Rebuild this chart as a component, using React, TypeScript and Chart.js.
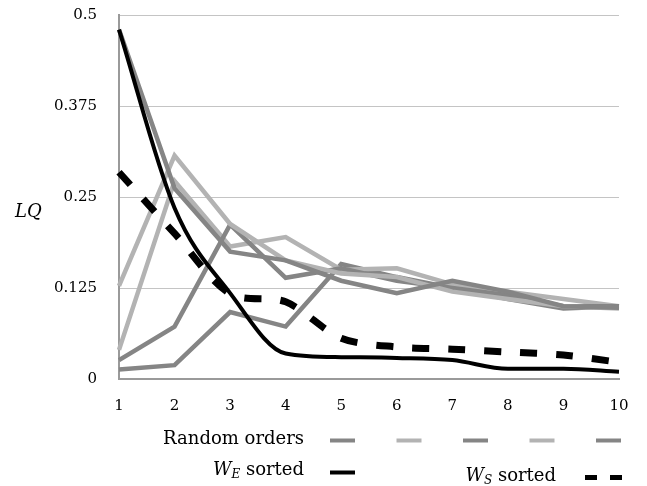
import React, { useEffect, useRef } from 'react';
import { Chart, registerables } from 'chart.js';

Chart.register(...registerables);

const categories = ['1', '2', '3', '4', '5', '6', '7', '8', '9', '10'];
const yTickValues = [0, 0.125, 0.25, 0.375, 0.5];
const yTickLabels = ['0', '0.125', '0.25', '0.375', '0.5'];

const random1 = [0.48, 0.262, 0.175, 0.163, 0.135, 0.118, 0.135, 0.12, 0.1, 0.098];
const random2 = [0.128, 0.307, 0.213, 0.163, 0.145, 0.14, 0.12, 0.11, 0.1, 0.097];
const random3 = [0.026, 0.072, 0.212, 0.139, 0.152, 0.135, 0.125, 0.115, 0.1, 0.1];
const random4 = [0.04, 0.272, 0.182, 0.195, 0.15, 0.152, 0.13, 0.12, 0.11, 0.1];
const random5 = [0.013, 0.019, 0.092, 0.072, 0.158, 0.14, 0.125, 0.11, 0.097, 0.1];
const weSorted = [0.48, 0.235, 0.118, 0.035, 0.03, 0.029, 0.026, 0.014, 0.014, 0.01];
const wsSorted = [0.284, 0.2, 0.117, 0.106, 0.056, 0.044, 0.041, 0.037, 0.033, 0.023];

const randomSeries = [random1, random2, random3, random4, random5];
const MID = '#858585';
const LIGHT = '#b3b3b3';
const randomColors = [MID, LIGHT, MID, LIGHT, MID];
const SERIF = '"DejaVu Serif", serif';

const legendPlugin = {
  id: 'customLegend',
  afterDraw(chart: any) {
    const ctx = chart.ctx as CanvasRenderingContext2D;
    ctx.save();
    ctx.fillStyle = '#000';
    ctx.textBaseline = 'middle';
    // y title
    ctx.font = `italic 18px ${SERIF}`;
    ctx.textAlign = 'left';
    ctx.fillText('LQ', 15, 212);

    // Random orders
    ctx.font = `18px ${SERIF}`;
    ctx.textAlign = 'right';
    ctx.fillText('Random orders', 304, 439);
    ctx.lineCap = 'butt';
    randomColors.forEach((c, i) => {
      ctx.strokeStyle = c;
      ctx.lineWidth = 4;
      ctx.beginPath();
      const x0 = 330 + i * 66.5;
      ctx.moveTo(x0, 440.5);
      ctx.lineTo(x0 + 25, 440.5);
      ctx.stroke();
    });

    const drawSub = (xRight: number, y: number, sub: string) => {
      ctx.textAlign = 'left';
      ctx.font = `italic 18px ${SERIF}`;
      const wW = ctx.measureText('W').width;
      ctx.font = `italic 12px ${SERIF}`;
      const wS = ctx.measureText(sub).width;
      ctx.font = `18px ${SERIF}`;
      const wT = ctx.measureText(' sorted').width;
      let x = xRight - (wW + wS + wT);
      ctx.font = `italic 18px ${SERIF}`;
      ctx.fillText('W', x, y);
      x += wW;
      ctx.font = `italic 12px ${SERIF}`;
      ctx.fillText(sub, x, y + 5);
      x += wS;
      ctx.font = `18px ${SERIF}`;
      ctx.fillText(' sorted', x, y);
    };

    drawSub(304, 470, 'E');
    ctx.strokeStyle = '#000';
    ctx.lineWidth = 4;
    ctx.beginPath();
    ctx.moveTo(330, 472.5);
    ctx.lineTo(355, 472.5);
    ctx.stroke();

    drawSub(556, 476, 'S');
    ctx.lineWidth = 5;
    ctx.beginPath();
    ctx.moveTo(585, 477.5);
    ctx.lineTo(597, 477.5);
    ctx.moveTo(610, 477.5);
    ctx.lineTo(622, 477.5);
    ctx.stroke();
    ctx.restore();
  },
};

export default function App() {
  const ref = useRef<HTMLCanvasElement>(null);

  useEffect(() => {
    if (!ref.current) return;
    const datasets: any[] = [
      {
        label: 'W_E sorted',
        data: weSorted,
        borderColor: '#000',
        borderWidth: 4,
        cubicInterpolationMode: 'monotone',
        pointRadius: 0,
        order: 0,
      },
      {
        label: 'W_S sorted',
        data: wsSorted,
        borderColor: '#000',
        borderWidth: 7,
        borderDash: [17, 19],
        borderCapStyle: 'butt',
        tension: 0.3,
        pointRadius: 0,
        order: 1,
      },
      ...randomSeries.map((s, i) => ({
        label: 'Random orders',
        data: s,
        borderColor: randomColors[i],
        borderWidth: 4.5,
        tension: 0,
        pointRadius: 0,
        order: 2 + i,
      })),
    ];

    const chart = new Chart(ref.current, {
      type: 'line',
      data: { labels: categories, datasets },
      options: {
        animation: false,
        responsive: false,
        devicePixelRatio: 1,
        layout: { padding: { top: 15, right: 28, left: 0, bottom: 0 } },
        plugins: { legend: { display: false }, tooltip: { enabled: false } },
        scales: {
          x: {
            type: 'category',
            offset: false,
            grid: { display: false, drawTicks: false },
            border: { display: true, color: '#9a9a9a', width: 2 },
            ticks: { color: '#000', font: { family: SERIF, size: 15 }, padding: 18, maxRotation: 0 },
            afterFit: (s: any) => { s.height = 107; },
          },
          y: {
            min: 0,
            max: 0.5,
            afterBuildTicks: (s: any) => { s.ticks = yTickValues.map((v) => ({ value: v })); },
            grid: { color: '#c4c4c4', lineWidth: 1, drawTicks: false },
            border: { display: true, color: '#9a9a9a', width: 2 },
            ticks: {
              color: '#000',
              font: { family: SERIF, size: 15 },
              padding: 22,
              callback: (v: any) => {
                const i = yTickValues.indexOf(Number(v));
                return i >= 0 ? yTickLabels[i] : '';
              },
            },
            afterFit: (s: any) => {
              s.width = 119;
              s.paddingTop = 0;
              s.paddingBottom = 0;
            },
          },
        },
      },
      plugins: [legendPlugin],
    });
    return () => chart.destroy();
  }, []);

  return (
    <div style={{ position: 'fixed', left: 0, top: 0, width: 647, height: 486, background: '#fff' }}>
      <canvas ref={ref} width={647} height={486} style={{ width: 647, height: 486 }} />
    </div>
  );
}
